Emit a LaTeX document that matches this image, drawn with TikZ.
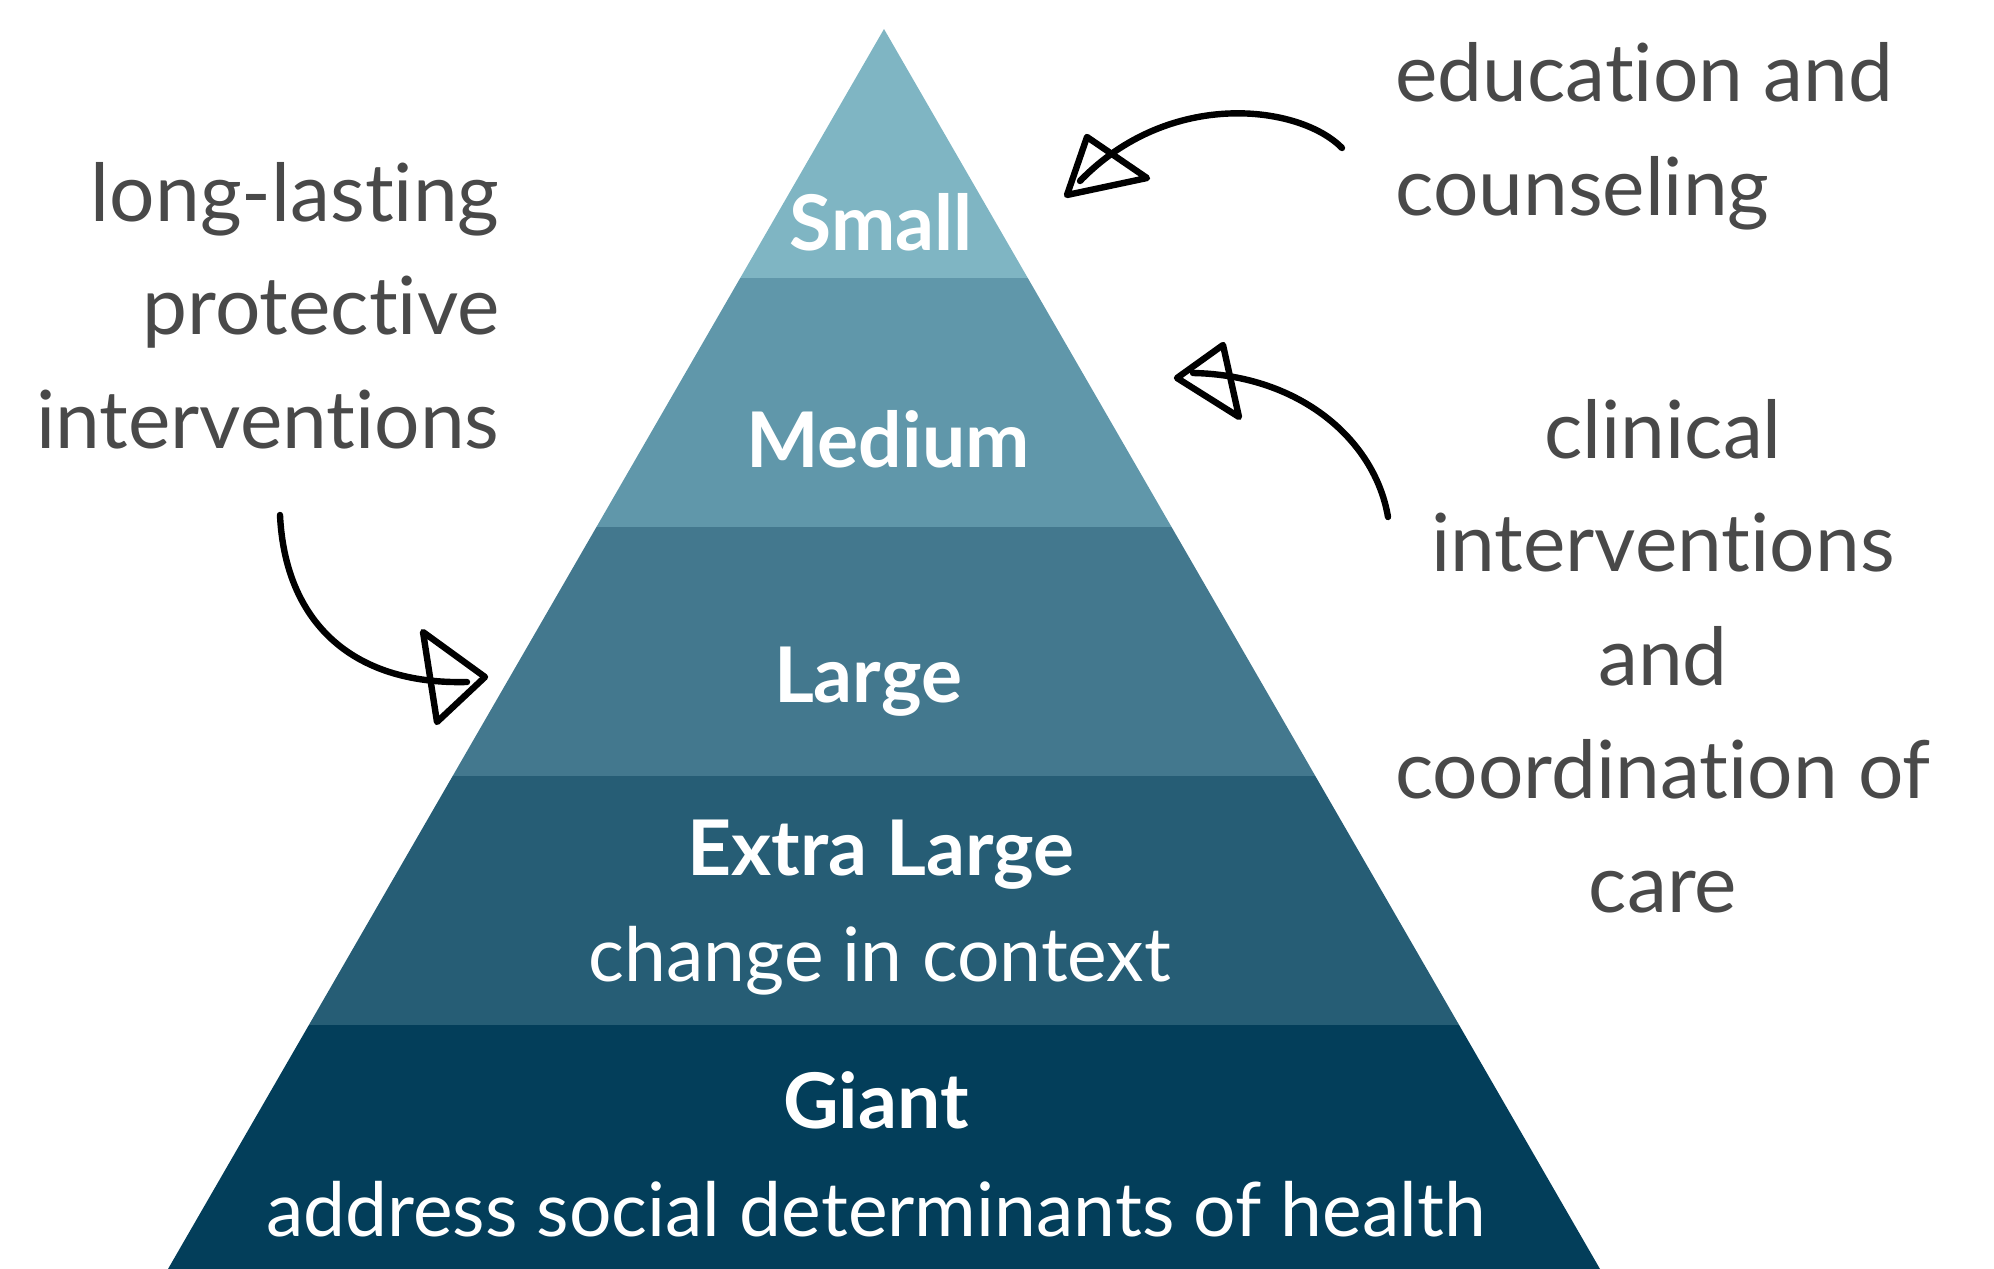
\documentclass[tikz,border=0pt]{standalone}
\usepackage{fontspec}
\setmainfont{Lato}[Ligatures=NoCommon]
\definecolor{smallblue}{HTML}{7FB5C3}
\definecolor{mediumblue}{HTML}{6097AA}
\definecolor{largeblue}{HTML}{43788E}
\definecolor{xlargeblue}{HTML}{265D75}
\definecolor{giantblue}{HTML}{033E5A}
\definecolor{textgray}{HTML}{494949}
\begin{document}
\begin{tikzpicture}[x=0.5pt,y=-0.5pt,
    level/.style={font=\bfseries\fontsize{38.4}{46}\selectfont, text=white, anchor=base, inner sep=0pt},
    sublevel/.style={font=\fontsize{37.5}{46}\selectfont, text=white, anchor=base, inner sep=0pt},
    side/.style={font=\fontsize{40.1}{56.75}\selectfont, text=textgray, inner sep=0pt},
    sketch/.style={line width=3.2pt, line cap=round, line join=round}]
    \useasboundingbox (0,0) rectangle (1994,1269);
    % pyramid bands
    \begin{scope}
    \clip (884,29) -- (168,1269) -- (1600,1269) -- cycle;
    \foreach \top/\col in {29/smallblue, 278/mediumblue, 527/largeblue, 776/xlargeblue, 1025/giantblue}
    \fill[\col] (0,\top) rectangle (1994,\top+249);
    \end{scope}
    % band labels
    \node[level] (small) at (881,250) {Small};
    \node[level] (medium) at (888,467) {Medium};
    \node[level] (large) at (868,702) {Large};
    \node[level] (xlarge) at (881,875) {Extra Large};
    \node[sublevel] (context) at (880,981) {change in context};
    \node[level] (giant) at (876,1128) {Giant};
    \node[sublevel] (determinants) at (876,1236) {address social determinants of health};
    % side texts (base = last line)
    \node[side, anchor=base east, align=right] (lasting) at (500,448) {long-lasting\\protective\\interventions};
    \node[side, anchor=base west, align=left] (education) at (1395,215) {education and\\counseling};
    \node[side, anchor=base, align=center] (clinical) at (1663,912) {clinical\\interventions\\and\\coordination of\\care};
    % hand drawn arrows
    \coordinate (edu-from) at (1342,148);
    \coordinate (edu-to) at (1080,181);
    \draw[sketch] (edu-from) .. controls (1300,105) and (1170,88) .. (edu-to);
    \draw[sketch] (1087,137) -- (1067,195) -- (1147,178) -- cycle;
    \coordinate (clin-from) at (1388,517);
    \coordinate (clin-to) at (1193,373);
    \draw[sketch] (clin-from) .. controls (1375,440) and (1300,375) .. (clin-to);
    \draw[sketch] (1223,345) -- (1177,378) -- (1239,417) -- cycle;
    \coordinate (last-from) at (280,515);
    \coordinate (last-to) at (467,682);
    \draw[sketch] (last-from) .. controls (285,620) and (350,685) .. (last-to);
    \draw[sketch] (423,632) -- (485,677) -- (437,722) -- cycle;
\end{tikzpicture}
\end{document}
